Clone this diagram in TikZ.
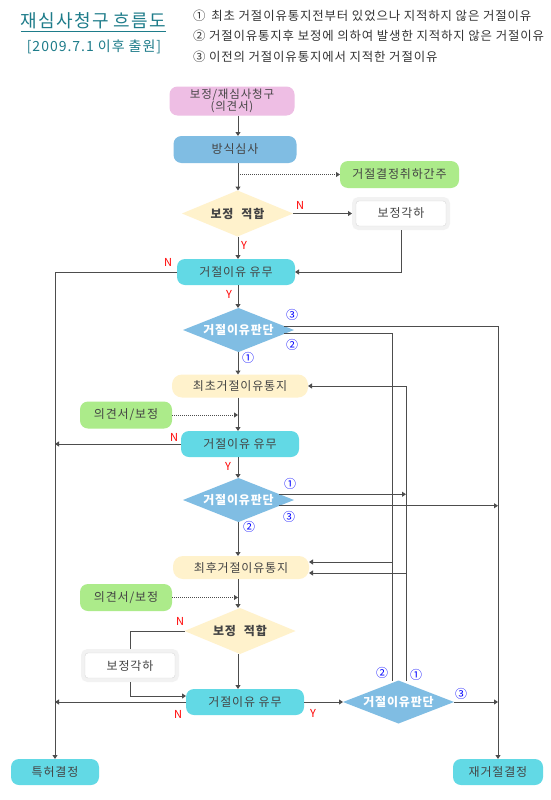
\documentclass[tikz,border=0pt]{standalone}
\usepackage{fontspec}
\setmainfont{Noto Sans CJK KR}[LetterSpace=7]
\usetikzlibrary{shapes.geometric,arrows.meta}
\definecolor{pinkbox}{HTML}{EEBEE4}
\definecolor{bluebox}{HTML}{80BDE3}
\definecolor{greenbox}{HTML}{ACEB8A}
\definecolor{yellowbox}{HTML}{FFF2CC}
\definecolor{cyanbox}{HTML}{62D9E5}
\definecolor{titleteal}{HTML}{1E7C8A}
\definecolor{linegray}{HTML}{4D4D4D}
\definecolor{textgray}{HTML}{444444}
\begin{document}
\begin{tikzpicture}[x=1pt, y=-1pt,
		every node/.style={font=\fontsize{12}{13}\selectfont, text=textgray, inner sep=0pt, outer sep=0pt},
		box/.style={rectangle, rounded corners=8pt, minimum height=26pt},
		notice/.style={box, fill=yellowbox, rounded corners=10pt, minimum width=136pt, minimum height=23pt},
		hasbox/.style={box, fill=cyanbox, minimum width=118pt},
		opbox/.style={box, fill=greenbox, minimum width=92pt, minimum height=27pt},
		rejbox/.style={rectangle, rounded corners=3pt, fill=white, draw=black!15, minimum width=90pt, minimum height=25pt, outer sep=4pt, preaction={draw=black!5, line width=8pt}},
		fitbox/.style={diamond, aspect=2.4, fill=yellowbox, minimum width=111pt, minimum height=46pt, font=\fontsize{12}{13}\selectfont\bfseries},
		judgebox/.style={diamond, aspect=2.4, fill=bluebox, minimum width=111pt, minimum height=44pt, text=white, font=\fontsize{12}{13}\selectfont\bfseries},
		arr/.style={draw=linegray, line width=1pt, -{Triangle[length=4pt,width=5pt]}},
		con/.style={draw=linegray, line width=1pt},
		dotarr/.style={arr, dash pattern=on 1pt off 1pt},
		yn/.style={text=red, font=\fontsize{11}{11}\selectfont},
		num/.style={text=blue, font=\fontsize{12}{12}\selectfont},
		legend/.style={anchor=base west, text=black!80, font=\fontsize{12.4}{13}\selectfont}
		]
		\useasboundingbox[fill=white] (0,0) rectangle (550,800);

		\node[anchor=base, text=titleteal, font=\fontsize{18}{18}\selectfont] (title) at (93.5,28) {재심사청구 흐름도};
		\draw[titleteal, line width=1pt] ([yshift=-4pt]title.base west) -- ([yshift=-4pt]title.base east);
		\node[anchor=base, text=titleteal, font=\fontsize{14}{14}\selectfont] (subtitle) at (94,52) {[2009.7.1 이후 출원]};
		\node[legend] (leg1) at (193,20.5) {①\hspace{6pt}최초 거절이유통지전부터 있었으나 지적하지 않은 거절이유};
		\node[legend] (leg2) at (193,40.5) {② 거절이유통지후 보정에 의하여 발생한 지적하지 않은 거절이유};
		\node[legend] (leg3) at (193,62) {③ 이전의 거절이유통지에서 지적한 거절이유};

		\coordinate (spine) at (238,0);
		\coordinate (colB) at (392,0);
		\coordinate (colA) at (406,0);

		\node[box, fill=pinkbox, minimum width=125pt, minimum height=29pt, align=center, font=\fontsize{11.5}{12}\selectfont] (req) at (232,101) {보정/재심사청구\\(의견서)};
		\node[box, fill=bluebox, minimum width=123pt, minimum height=27pt] (form) at (235,149.5) {방식심사};
		\node[box, fill=greenbox, minimum width=119pt, minimum height=27pt] (wd) at (399.5,174.5) {거절결정취하간주};
		\node[fitbox] (fit1) at (237.5,213.5) {보정\hspace{8pt}적합};
		\node[rejbox] (rej1) at (401,213.5) {보정각하};
		\node[hasbox] (has1) at (236,272) {거절이유 유무};
		\node[judgebox] (judge1) at (238.5,330) {거절이유판단};
		\node[notice] (first) at (240,386) {최초거절이유통지};
		\node[opbox] (op1) at (126,415) {의견서/보정};
		\node[hasbox] (has2) at (240,444) {거절이유 유무};
		\node[judgebox] (judge2) at (238.5,500) {거절이유판단};
		\node[notice] (final) at (241,567.5) {최후거절이유통지};
		\node[opbox] (op2) at (126,597.5) {의견서/보정};
		\node[fitbox] (fit2) at (240,631) {보정\hspace{8pt}적합};
		\node[rejbox] (rej2) at (130,665.5) {보정각하};
		\node[hasbox] (has3) at (245,702) {거절이유 유무};
		\node[judgebox, minimum height=43pt] (judge3) at (398.5,702) {거절이유판단};
		\node[hasbox, minimum width=88pt] (grant) at (55,772) {특허결정};
		\node[hasbox, minimum width=90pt] (refuse) at (498,772) {재거절결정};

		\coordinate (finalB) at ([yshift=5.5pt]final.east);
		\coordinate (finalA) at ([yshift=-5.5pt]final.east);
		\coordinate (has3in) at ([yshift=6pt]has3.west);

		\draw[arr] (req.south -| spine) -- (form.north -| spine);
		\draw[arr] (form.south -| spine) -- (fit1.north -| spine);
		\draw[dotarr] (spine |- wd.west) -- (wd.west);
		\draw[arr] (fit1.east) -- (rej1.west);
		\draw[arr] (rej1.south) |- (has1.east);
		\draw[arr] (fit1.south -| spine) -- (has1.north -| spine);
		\draw[arr] (has1.west) -| (grant.north);
		\draw[arr] (has1.south -| spine) -- (judge1.north -| spine);
		\draw[arr] (judge1.5) -| (refuse.north);
		\draw[arr] (judge1.-5) -| (colB |- finalB) -- (finalB);
		\draw[arr] (judge1.south -| spine) -- (first.north -| spine);
		\draw[arr] (first.south -| spine) -- (has2.north -| spine);
		\draw[dotarr] (op1.east) -- (op1.east -| spine);
		\draw[arr] (has2.west) -- (has2.west -| grant);
		\draw[arr] (has2.south -| spine) -- (judge2.north -| spine);
		\draw[arr] (judge2.8) -- (judge2.8 -| colA);
		\draw[arr] (judge2.-8) -- (judge2.-8 -| refuse);
		\draw[arr] (judge2.south -| spine) -- (final.north -| spine);
		\draw[arr] (final.south -| spine) -- (fit2.north -| spine);
		\draw[dotarr] (op2.east) -- (op2.east -| spine);
		\draw[con] (fit2.west) -| (rej2.north);
		\draw[arr] (rej2.south) |- (has3in);
		\draw[arr] (fit2.south -| spine) -- (has3.north -| spine);
		\draw[arr] (has3.west) -- (has3.west -| grant);
		\draw[arr] (has3.east) -- (judge3.west);
		\draw[con] (judge3.north -| colB) -- (colB |- finalB);
		\draw[arr] (judge3.north -| colA) |- (first.east);
		\draw[arr] (colA |- finalA) -- (finalA);
		\draw[arr] (judge3.east) -- (judge3.east -| refuse);

		\node[yn] (n1) at (300,205) {N};
		\node[yn] (y1) at (244,245) {Y};
		\node[yn] (n2) at (168,262) {N};
		\node[yn] (y2) at (229,294) {Y};
		\node[yn] (n3) at (174,437) {N};
		\node[yn] (y3) at (228,466) {Y};
		\node[yn] (n4) at (180,621) {N};
		\node[yn] (n5) at (178,714) {N};
		\node[yn] (y4) at (313,713) {Y};
		\node[num] (j1c3) at (292,315) {③};
		\node[num] (j1c2) at (292,345) {②};
		\node[num] (j1c1) at (248,358) {①};
		\node[num] (j2c1) at (290,484) {①};
		\node[num] (j2c3) at (289,517) {③};
		\node[num] (j2c2) at (249,527) {②};
		\node[num] (j3c2) at (382,673) {②};
		\node[num] (j3c1) at (416,675) {①};
		\node[num] (j3c3) at (461,694) {③};
	\end{tikzpicture}
\end{document}
